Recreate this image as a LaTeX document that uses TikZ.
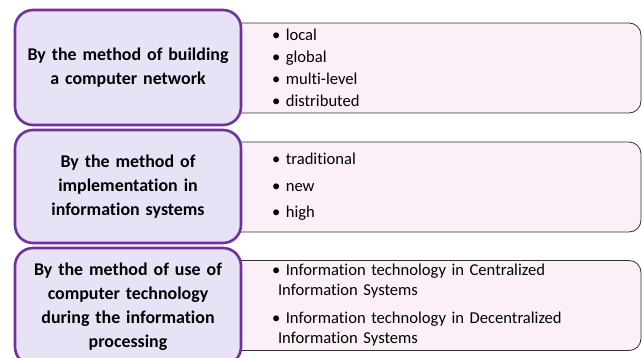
\documentclass[tikz,border=0pt]{standalone}
\usepackage{fontspec}
\setmainfont{Carlito}[Ligatures=NoCommon]
\definecolor{catline}{HTML}{7030A0}
\definecolor{catfill}{HTML}{E8E2F7}
\definecolor{listfill}{HTML}{FBF0F8}
\definecolor{listline}{HTML}{303030}
\begin{document}
\begin{tikzpicture}[x=1pt, y=-1pt,
  catbox/.style={draw=catline, line width=2.6pt, fill=catfill, rounded corners=18pt,
    minimum width=226pt, text width=216pt, align=center, inner sep=0pt,
    font=\fontsize{17.9}{24}\selectfont\bfseries},
  listbox/.style={draw=listline, line width=0.8pt, fill=listfill, rounded corners=12pt,
    minimum width=416pt, minimum height=90pt, text width=322pt, align=left,
    inner xsep=47pt, inner ysep=0pt}]
\useasboundingbox (0,0) rectangle (642,358);
% lists first, the category boxes lie over their left ends
\node[listbox, font=\fontsize{16.6}{22}\selectfont] (list1) at (433,68)
  {\textbullet\ local\\ \textbullet\ global\\ \textbullet\ multi-level\\ \textbullet\ distributed};
\node[listbox, font=\fontsize{16.6}{26.5}\selectfont] (list2) at (433,187)
  {\textbullet\ traditional\\ \textbullet\ new\\ \textbullet\ high};
\node[listbox, font=\fontsize{16.6}{20}\selectfont] (list3) at (433,305.5)
  {\textbullet\ Information technology in Centralized\\ \hspace*{6pt}Information Systems\\[8pt]
   \textbullet\ Information technology in Decentralized\\ \hspace*{6pt}Information Systems};
% categories
\node[catbox, minimum height=115pt] (cat1) at (128,67.5) {By the method of building\\a computer network};
\node[catbox, minimum height=113pt] (cat2) at (128,186.5) {By the method of\\implementation in\\information systems};
\node[catbox, minimum height=117pt] (cat3) at (128,306.5) {By the method of use of\\computer technology\\during the information\\processing};
\end{tikzpicture}
\end{document}
